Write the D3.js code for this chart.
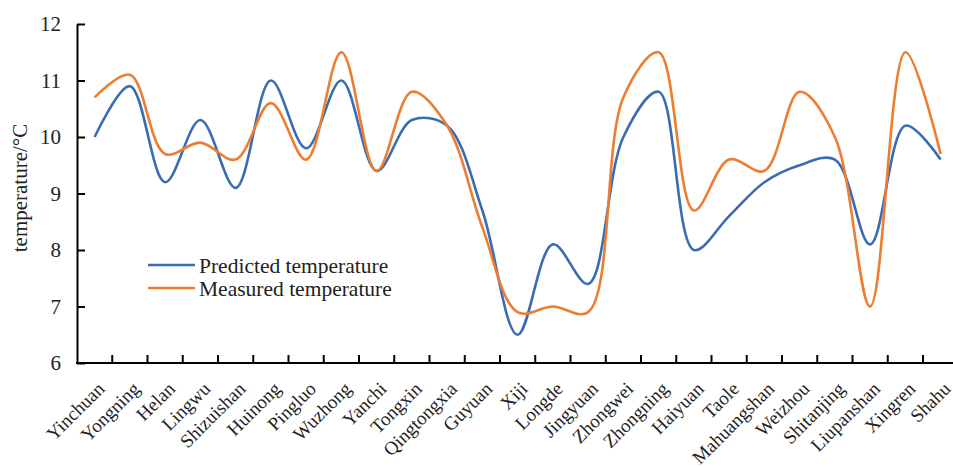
<!DOCTYPE html>
<html><head><meta charset="utf-8">
<script src="https://cdn.jsdelivr.net/npm/d3@7"></script>
<style>
html,body{margin:0;padding:0;background:#fff;}
svg{display:block;font-family:"Liberation Serif","Times New Roman",serif;}
</style></head>
<body><svg id="c" width="953" height="467"></svg>
<script>
const categories = ["Yinchuan","Yongning","Helan","Lingwu","Shizuishan","Huinong","Pingluo","Wuzhong","Yanchi","Tongxin","Qingtongxia","Guyuan","Xiji","Longde","Jingyuan","Zhongwei","Zhongning","Haiyuan","Taole","Mahuangshan","Weizhou","Shitanjing","Liupanshan","Xingren","Shahu"];
const predicted = [10.0,10.9,9.2,10.3,9.1,11.0,9.8,11.0,9.4,10.3,10.2,8.7,6.5,8.1,7.4,10.0,10.8,8.0,8.6,9.2,9.5,9.6,8.1,10.2,9.6];
const measured  = [10.7,11.1,9.7,9.9,9.6,10.6,9.6,11.5,9.4,10.8,10.2,8.4,6.9,7.0,6.9,10.7,11.5,8.7,9.6,9.4,10.8,10.0,7.0,11.5,9.7];
const yTicks = [6,7,8,9,10,11,12];
const seriesNames = ["Predicted temperature","Measured temperature"];
const colors = ["#3A6CB4","#ED7D31"];

const svg = d3.select("#c");
const mLeft = 77, mTop = 24, mBottom = 363, band = 35.25;
const x = d3.scaleBand().domain(categories).range([mLeft, mLeft + band*categories.length]);
const y = d3.scaleLinear().domain([6,12]).range([mBottom, mTop]);

// lines
const line = d3.line().x((d,i)=>x(categories[i]) + x.bandwidth()/2).y(d=>y(d)).curve(d3.curveCatmullRom.alpha(0.5));
[predicted, measured].forEach((s,k)=>{
  svg.append("path").attr("d", line(s)).attr("fill","none").attr("stroke",colors[k]).attr("stroke-width",2.6).attr("stroke-linejoin","round");
});

// y axis
const yAxis = d3.axisLeft(y).tickValues(yTicks).tickFormat(d3.format("d")).tickSizeInner(-8).tickSizeOuter(0).tickPadding(16);
const gy = svg.append("g").attr("transform",`translate(${mLeft},0)`).call(yAxis);
gy.select(".domain").attr("stroke","#000").attr("stroke-width",2);
gy.selectAll(".tick line").attr("stroke","#000").attr("stroke-width",2);
gy.selectAll("text").attr("font-size",21).attr("font-family","Liberation Serif").attr("fill","#222");

// x axis
const gx = svg.append("g").attr("transform",`translate(0,${mBottom})`);
gx.append("line").attr("x1",mLeft-1).attr("x2",953).attr("y1",0).attr("y2",0).attr("stroke","#000").attr("stroke-width",2);
gx.selectAll("line.tk").data(categories.slice(1)).join("line").attr("class","tk")
  .attr("x1",d=>x(d)).attr("x2",d=>x(d)).attr("y1",0).attr("y2",-8).attr("stroke","#000").attr("stroke-width",2);
gx.selectAll("text").data(categories).join("text")
  .attr("transform",d=>`translate(${x(d)+x.bandwidth()/2+11},${27}) rotate(-45)`)
  .attr("text-anchor","end").attr("font-size",19).attr("fill","#222").text(d=>d);

// y title
svg.append("text").attr("transform","translate(27,188) rotate(-90)").attr("text-anchor","middle")
  .attr("font-size",21).attr("fill","#222").text("temperature/°C");

// legend
const lg = svg.append("g");
seriesNames.forEach((n,k)=>{
  const yy = 265 + k*23;
  lg.append("line").attr("x1",148).attr("x2",195).attr("y1",yy).attr("y2",yy).attr("stroke",colors[k]).attr("stroke-width",2.6);
  lg.append("text").attr("x",199).attr("y",yy).attr("dy","0.35em").attr("font-size",21.5).attr("fill","#222").text(n);
});
</script></body></html>
